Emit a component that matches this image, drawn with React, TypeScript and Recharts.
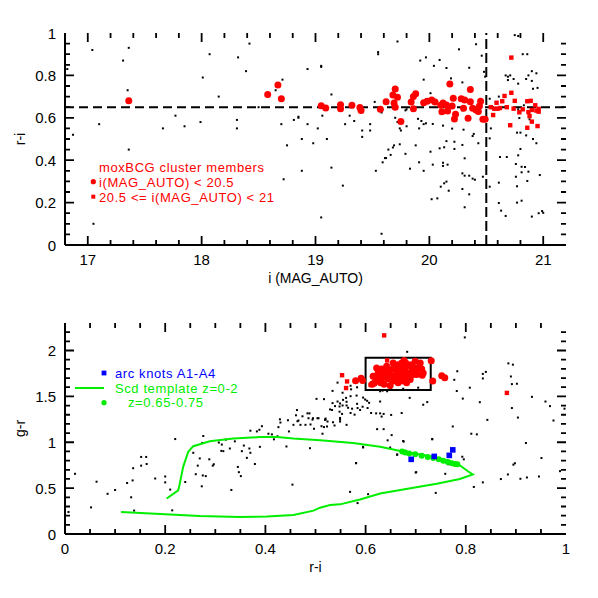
import {
  ScatterChart,
  Scatter,
  XAxis,
  YAxis,
  ReferenceLine,
  ReferenceArea,
  Legend,
  Label,
} from "recharts";

const FONT = '"Liberation Sans", Arial, Helvetica, sans-serif';
const RED = "#ff0000";
const GREEN = "#00ee00";
const BLUE = "#0000ff";

// ---- upper panel: i (MAG_AUTO) vs r-i ----
const topField: [number, number][] = [
  [17.04, 0.92], [17.36, 0.93], [17.31, 0.87], [16.82, 0.83], [17.35, 0.73], [17.1, 0.57], [16.87, 0.52],
  [17.36, 0.45], [17.05, 0.1], [18.07, 0.9], [18.42, 0.95], [18.32, 0.885], [18.39, 0.82], [18.01, 0.79],
  [18.15, 0.7], [17.66, 0.55], [17.77, 0.61], [17.85, 0.56], [17.99, 0.58], [18.31, 0.59], [18.31, 0.55],
  [18.5, 0.65], [18.71, 0.78], [18.65, 0.73], [18.7, 0.57], [18.75, 0.47], [18.81, 0.59], [18.85, 0.605],
  [18.93, 0.83], [19.05, 0.84], [18.93, 0.57], [18.88, 0.5], [18.98, 0.48], [19.02, 0.55], [19.06, 0.61],
  [19.1, 0.5], [18.72, 0.31], [18.88, 0.35], [19.05, 0.13],
  [19.72, 0.96], [19.55, 0.91], [19.55, 0.9], [19.05, 0.845], [19.92, 0.87], [19.97, 0.885], [19.95, 0.78],
  [19.14, 0.71], [19.52, 0.675], [18.85, 0.6], [19.3, 0.61], [19.34, 0.585], [19.26, 0.57], [19.41, 0.54],
  [19.41, 0.51], [19.48, 0.57], [19.48, 0.54], [19.58, 0.625], [19.7, 0.6], [19.72, 0.58], [19.74, 0.55],
  [19.75, 0.54], [19.8, 0.56], [19.9, 0.595], [19.93, 0.585], [19.95, 0.57], [19.97, 0.574], [19.91, 0.55],
  [19.68, 0.46], [19.69, 0.47], [19.64, 0.45], [19.66, 0.425], [19.61, 0.41], [19.62, 0.41], [19.59, 0.39],
  [19.53, 0.35], [19.79, 0.43], [19.74, 0.475], [19.88, 0.47], [19.91, 0.39], [19.83, 0.36], [19.95, 0.35],
  [19.14, 0.365], [19.24, 0.28], [19.58, 0.053], [19.8, 0.64], [19.79, 0.635],
  [20.41, 0.947], [20.26, 0.923], [20.04, 0.845], [20.09, 0.873], [20.15, 0.835], [20.35, 0.836],
  [20.46, 0.893], [20.48, 0.817], [20.49, 0.794], [20.29, 0.767], [20.19, 0.786], [20.75, 0.99],
  [20.78, 0.986], [20.82, 0.9], [20.86, 0.9], [20.67, 0.8], [20.69, 0.794], [20.71, 0.8], [20.69, 0.778],
  [20.74, 0.783], [20.78, 0.761], [20.85, 0.783], [20.87, 0.8], [20.9, 0.82], [20.9, 0.774], [20.94, 0.81],
  [20.91, 0.737], [20.95, 0.741], [20.01, 0.716], [20.3, 0.65], [20.29, 0.635], [20.53, 0.69], [20.61, 0.7],
  [20.78, 0.64], [20.83, 0.659], [20.79, 0.599], [20.88, 0.593], [20.03, 0.571], [20.12, 0.563], [20.2, 0.549],
  [20.3, 0.544], [20.54, 0.55], [20.53, 0.503], [20.77, 0.53], [20.8, 0.53], [20.85, 0.517], [20.91, 0.5],
  [20.94, 0.48], [20.38, 0.514], [20.39, 0.524], [20.43, 0.48], [20.15, 0.49], [20.22, 0.487], [20.22, 0.453],
  [20.29, 0.472], [20.09, 0.456], [20.13, 0.461], [20.01, 0.44], [20.31, 0.409], [20.03, 0.379], [20.12, 0.388],
  [20.12, 0.373], [20.16, 0.379], [20.29, 0.338], [20.31, 0.327], [20.35, 0.327], [20.38, 0.313], [20.4, 0.308],
  [20.47, 0.322], [20.13, 0.291], [20.15, 0.299], [20.1, 0.275], [20.17, 0.256], [20.29, 0.264], [20.35, 0.239],
  [20.02, 0.216], [20.07, 0.22], [20.31, 0.178], [20.53, 0.275], [20.62, 0.415], [20.68, 0.415], [20.61, 0.294],
  [20.61, 0.198], [20.63, 0.162], [20.67, 0.137], [20.76, 0.382], [20.81, 0.369], [20.84, 0.368], [20.78, 0.423],
  [20.8, 0.453], [20.76, 0.322], [20.81, 0.343], [20.87, 0.346], [20.77, 0.277], [20.86, 0.302], [20.97, 0.33],
  [20.77, 0.2], [20.81, 0.209], [20.9, 0.134], [20.96, 0.15], [20.99, 0.16], [21.0, 0.152],
];

const topBright: [number, number][] = [
  [17.36, 0.68], [18.58, 0.71], [18.67, 0.755], [18.7, 0.69], [19.05, 0.657], [19.09, 0.646], [19.22, 0.662],
  [19.22, 0.643], [19.32, 0.659], [19.39, 0.648], [19.4, 0.634], [19.57, 0.64], [19.62, 0.676], [19.7, 0.736],
  [19.68, 0.708], [19.72, 0.697], [19.69, 0.67], [19.7, 0.65], [19.75, 0.583], [19.84, 0.675], [19.86, 0.7],
  [19.88, 0.714], [19.86, 0.643], [19.95, 0.671], [19.98, 0.678], [20.18, 0.76], [20.36, 0.733], [20.02, 0.684],
  [20.05, 0.675], [20.1, 0.659], [20.12, 0.67], [20.11, 0.629], [20.16, 0.632], [20.21, 0.692], [20.2, 0.656],
  [20.23, 0.617], [20.22, 0.594], [20.28, 0.69], [20.31, 0.684], [20.3, 0.645], [20.34, 0.598], [20.36, 0.676],
  [20.38, 0.645], [20.41, 0.637], [20.43, 0.63], [20.44, 0.656], [20.45, 0.678], [20.49, 0.593], [20.47, 0.593],
  [20.15, 0.66],
];

const topFaint: [number, number][] = [
  [20.72, 0.884], [20.72, 0.718], [20.66, 0.703], [20.64, 0.678], [20.59, 0.671], [20.75, 0.68], [20.54, 0.65],
  [20.57, 0.643], [20.6, 0.643], [20.62, 0.646], [20.56, 0.613], [20.68, 0.65], [20.74, 0.643], [20.71, 0.565],
  [20.79, 0.626], [20.82, 0.64], [20.86, 0.678], [20.89, 0.68], [20.93, 0.659], [20.87, 0.627], [20.88, 0.608],
  [20.9, 0.637], [20.96, 0.642], [20.96, 0.629], [20.94, 0.634], [20.95, 0.561], [20.86, 0.553], [20.9, 0.582],
];

const redSequenceColor = 0.65;
const magLimit = 20.5;

// ---- lower panel: r-i vs g-r ----
const lowField: [number, number][] = [
  [0.007, 0.24], [0.02, 0.656], [0.052, 0.29], [0.063, 0.57], [0.085, 0.438], [0.1, 0.48], [0.124, 0.556],
  [0.132, 0.4], [0.135, 0.584], [0.136, 0.717], [0.152, 0.745], [0.152, 0.84], [0.162, 0.84], [0.163, 0.763],
  [0.138, 0.255], [0.18, 0.605], [0.2, 0.627], [0.2, 0.563], [0.21, 0.484], [0.214, 0.258], [0.22, 1.035],
  [0.24, 0.567], [0.256, 0.885], [0.261, 0.652], [0.265, 0.745], [0.269, 0.824], [0.273, 0.52], [0.275, 0.638],
  [0.281, 0.631], [0.276, 1.068], [0.274, 0.993], [0.288, 0.814], [0.295, 0.745], [0.297, 0.76], [0.307, 0.997],
  [0.313, 0.975], [0.312, 0.906], [0.316, 0.903], [0.321, 1.029], [0.329, 0.932], [0.332, 0.48], [0.339, 1.01],
  [0.345, 0.731], [0.347, 0.674], [0.351, 0.631], [0.353, 0.903], [0.357, 0.964], [0.363, 0.83], [0.368, 0.932],
  [0.37, 1.126], [0.37, 0.885], [0.379, 0.763], [0.383, 1.118], [0.388, 1.136], [0.393, 1.175], [0.389, 0.95],
  [0.406, 1.093], [0.413, 1.086], [0.417, 1.032], [0.424, 1.065], [0.426, 1.165], [0.429, 1.25], [0.43, 1.215],
  [0.442, 0.954], [0.445, 1.24], [0.447, 1.118], [0.454, 0.538], [0.456, 1.19], [0.461, 1.294], [0.463, 1.351],
  [0.464, 1.229], [0.466, 1.237], [0.47, 1.19], [0.474, 1.283], [0.48, 1.19], [0.484, 1.315], [0.486, 1.262],
  [0.489, 0.935], [0.49, 1.194], [0.494, 1.247], [0.497, 1.147], [0.502, 1.473], [0.504, 1.262], [0.517, 1.47],
  [0.52, 1.247], [0.523, 1.172], [0.529, 1.358],
  [0.683, 1.986], [0.534, 1.56], [0.544, 1.65], [0.554, 1.54], [0.534, 1.427], [0.539, 1.394], [0.544, 1.444],
  [0.549, 1.423], [0.548, 1.39], [0.554, 1.401], [0.555, 1.462], [0.561, 1.484], [0.562, 1.441], [0.57, 1.616],
  [0.57, 1.502], [0.571, 1.577], [0.582, 1.509], [0.583, 1.599], [0.533, 1.352], [0.548, 1.333], [0.553, 1.309],
  [0.562, 1.401], [0.565, 1.376], [0.573, 1.366], [0.584, 1.373], [0.589, 1.352], [0.583, 1.419], [0.594, 1.387],
  [0.595, 1.487], [0.599, 1.466], [0.603, 1.452], [0.604, 1.373], [0.607, 1.43], [0.611, 1.319], [0.621, 1.315],
  [0.629, 1.444], [0.629, 1.315], [0.632, 1.28], [0.636, 1.309], [0.651, 1.298], [0.672, 1.319], [0.688, 1.484],
  [0.715, 1.409], [0.723, 1.438], [0.578, 1.301], [0.57, 1.319], [0.524, 1.226], [0.535, 1.218], [0.549, 1.226],
  [0.562, 1.19], [0.549, 1.265], [0.519, 1.244], [0.495, 1.262], [0.506, 1.262], [0.488, 1.315], [0.512, 1.175],
  [0.514, 1.093], [0.623, 1.143], [0.636, 1.143], [0.652, 1.078], [0.644, 1.021], [0.676, 1.007], [0.595, 0.943],
  [0.649, 0.943], [0.733, 1.032], [0.581, 0.774], [0.663, 0.867], [0.701, 0.674], [0.765, 0.76], [0.615, 1.642],
  [0.629, 1.556], [0.634, 1.563], [0.643, 1.556], [0.647, 1.6], [0.646, 1.624], [0.65, 1.591], [0.655, 1.57],
  [0.675, 1.584], [0.705, 1.595],
  [0.798, 2.143], [0.885, 1.86], [0.894, 1.846], [0.84, 1.767], [0.834, 1.745], [0.834, 1.696], [0.783, 1.774],
  [0.777, 1.681], [0.808, 1.595], [0.89, 1.717], [0.892, 1.634], [0.902, 1.638], [0.782, 1.559], [0.794, 1.476],
  [0.828, 1.437], [0.932, 1.495], [0.892, 1.373], [0.904, 1.269], [0.959, 1.444], [0.968, 1.394], [0.975, 1.237],
  [0.997, 1.366], [0.843, 1.244], [0.774, 1.172], [0.811, 1.093], [0.822, 1.086], [0.92, 0.992], [0.951, 0.828],
  [0.988, 0.685], [0.895, 0.756], [0.898, 0.771], [0.884, 0.649], [0.87, 0.599], [0.909, 0.602], [0.922, 0.616],
  [0.946, 0.627], [0.834, 0.563], [0.816, 0.513], [0.759, 0.656], [0.7, 0.67], [0.74, 0.448], [0.605, 0.434],
  [0.569, 0.459], [0.584, 0.337], [0.581, 0.771], [0.595, 0.95], [0.663, 0.864], [0.675, 1.014], [0.733, 1.036],
  [0.793, 0.842], [0.796, 0.814], [0.52, 1.258], [0.517, 1.165], [0.538, 1.183], [0.549, 1.247],
];

const lowBright: [number, number][] = [
  [0.58, 1.67], [0.591, 1.699], [0.594, 1.674], [0.613, 1.631], [0.731, 1.889], [0.734, 1.667], [0.752, 1.724],
  [0.758, 1.702], [0.622, 1.81], [0.625, 1.756], [0.615, 1.72], [0.621, 1.692], [0.632, 1.799], [0.639, 1.792],
  [0.642, 1.738], [0.634, 1.703], [0.645, 1.692], [0.63, 1.649], [0.637, 1.631], [0.649, 1.62], [0.655, 1.667],
  [0.662, 1.685], [0.669, 1.692], [0.675, 1.667], [0.682, 1.649], [0.647, 1.749], [0.652, 1.792], [0.661, 1.828],
  [0.665, 1.846], [0.672, 1.864], [0.677, 1.871], [0.682, 1.857], [0.687, 1.835], [0.692, 1.846], [0.697, 1.81],
  [0.702, 1.792], [0.707, 1.821], [0.712, 1.799], [0.692, 1.774], [0.682, 1.756], [0.674, 1.774], [0.667, 1.756],
  [0.662, 1.738], [0.655, 1.72], [0.702, 1.738], [0.713, 1.731], [0.715, 1.756], [0.695, 1.738], [0.685, 1.72],
  [0.675, 1.72], [0.665, 1.649], [0.689, 1.685], [0.642, 1.828], [0.655, 1.864], [0.672, 1.81], [0.679, 1.81],
  [0.662, 1.785], [0.632, 1.738], [0.625, 1.667], [0.617, 1.642], [0.699, 1.882], [0.709, 1.864], [0.677, 1.892],
  [0.67, 1.835],
];

const lowFaint: [number, number][] = [
  [0.637, 2.165], [0.553, 1.731], [0.563, 1.663], [0.561, 1.591], [0.882, 1.538], [0.643, 1.892], [0.61, 1.624],
];

// Scd template track, z = 0 -> 2
const scdTemplate: [number, number][] = [
  [0.112, 0.24], [0.19, 0.218], [0.269, 0.197], [0.349, 0.186], [0.403, 0.19], [0.456, 0.208], [0.496, 0.255],
  [0.509, 0.287], [0.529, 0.315], [0.549, 0.323], [0.589, 0.376], [0.629, 0.441], [0.675, 0.484], [0.742, 0.548],
  [0.788, 0.599], [0.814, 0.649], [0.805, 0.681], [0.782, 0.771], [0.735, 0.842], [0.672, 0.903], [0.629, 0.95],
  [0.575, 0.993], [0.509, 1.022], [0.456, 1.04], [0.423, 1.057], [0.389, 1.057], [0.336, 1.04], [0.289, 1.011],
  [0.256, 0.957], [0.246, 0.896], [0.236, 0.735], [0.228, 0.52], [0.226, 0.476], [0.203, 0.387],
];

const scdArcRange: [number, number][] = [
  [0.673, 0.9], [0.679, 0.889], [0.687, 0.878], [0.699, 0.868], [0.712, 0.853], [0.724, 0.839], [0.735, 0.828],
  [0.746, 0.814], [0.755, 0.799], [0.764, 0.785], [0.772, 0.771], [0.778, 0.763], [0.783, 0.76],
];

const arcKnots: [number, number][] = [
  [0.691, 0.814], [0.737, 0.846], [0.767, 0.857], [0.774, 0.917],
];

const memberBox = { x1: 0.6, x2: 0.73, y1: 1.57, y2: 1.92 };

// ---- axes ----
const steps = (from: number, to: number, step: number) => {
  const out: number[] = [];
  for (let v = from; v <= to + 1e-9; v += step) out.push(Math.round(v * 1000) / 1000);
  return out;
};
const topXDomain: [number, number] = [16.8, 21.2];
const topYDomain: [number, number] = [0, 1];
const lowXDomain: [number, number] = [0, 1];
const lowYDomain: [number, number] = [0, 2.3];
const topXMajor = [17, 18, 19, 20, 21];
const topYMajor = [0, 0.2, 0.4, 0.6, 0.8, 1];
const lowXMajor = [0, 0.2, 0.4, 0.6, 0.8, 1];
const lowYMajor = [0, 0.5, 1, 1.5, 2];
const topXTicks = steps(17, 21, 0.2);
const topYTicks = steps(0, 1, 0.05);
const lowXTicks = steps(0, 1, 0.05);
const lowYTicks = steps(0, 2.2, 0.1);

// plot frames (page px), matching the chart margins and axis sizes below
const TOP_FRAME = { left: 65, top: 33, w: 501, h: 212 };
const LOW_FRAME = { left: 65, top: 323, w: 501, h: 211 };

const pts = (arr: [number, number][]) => arr.map(([x, y]) => ({ x, y }));
const isMajor = (v: number, majors: number[]) => majors.some((m) => Math.abs(m - v) < 1e-6);

// inward IDL-style tick marks on all four sides of a frame
const FrameTicks = ({
  frame, xd, yd, xTicks, xMajors, yTicks, yMajors,
}: {
  frame: { left: number; top: number; w: number; h: number };
  xd: [number, number]; yd: [number, number];
  xTicks: number[]; xMajors: number[]; yTicks: number[]; yMajors: number[];
}) => {
  const { left, top, w, h } = frame;
  const sx = (v: number) => left + ((v - xd[0]) / (xd[1] - xd[0])) * w;
  const sy = (v: number) => top + h - ((v - yd[0]) / (yd[1] - yd[0])) * h;
  const segs: string[] = [];
  xTicks
    .filter((v) => v > xd[0] && v < xd[1])
    .forEach((v) => {
      const l = isMajor(v, xMajors) ? 9 : 5;
      const x = sx(v);
      segs.push(`M${x},${top + h}v${-l}`, `M${x},${top}v${l}`);
    });
  yTicks
    .filter((v) => v > yd[0] && v < yd[1])
    .forEach((v) => {
      const l = isMajor(v, yMajors) ? 9 : 5;
      const y = sy(v);
      segs.push(`M${left},${y}h${l}`, `M${left + w},${y}h${-l}`);
    });
  return <path d={segs.join("")} stroke="#000" strokeWidth={1.8} fill="none" />;
};

type Side = "bottom" | "left";

const makeTick = (side: Side, majors: number[]) => (props: any) => {
  const x = Number(props.x);
  const y = Number(props.y);
  const v = Number(props.payload?.value);
  if (!isMajor(v, majors)) return <g />;
  return side === "bottom" ? (
    <text x={x} y={y + 19.5} textAnchor="middle" fontSize={15} fontFamily={FONT} fill="#000">
      {String(v)}
    </text>
  ) : (
    <text x={x - 9} y={y + 5.5} textAnchor="end" fontSize={15} fontFamily={FONT} fill="#000">
      {String(v)}
    </text>
  );
};

const Field = (p: any) => <rect x={p.cx - 1} y={p.cy - 1} width={2} height={2} fill="#000" />;
const Bright = (p: any) => <circle cx={p.cx} cy={p.cy} r={3.5} fill={RED} />;
const Faint = (p: any) => <rect x={p.cx - 2.2} y={p.cy - 2.2} width={4.4} height={4.4} fill={RED} />;
const GreenDot = (p: any) => <circle cx={p.cx} cy={p.cy} r={3} fill={GREEN} />;
const Knot = (p: any) => <rect x={p.cx - 2.8} y={p.cy - 2.8} width={5.6} height={5.6} fill={BLUE} />;
const NoMark = () => <g />;

const axisLine = { stroke: "#000", strokeWidth: 2 };
const legendText = { fontFamily: FONT, fontSize: 13, letterSpacing: 0.6 };

const xTitle = (text: string) => (p: any) => {
  const vb = p.viewBox || { x: 65, y: 245, width: 501 };
  return (
    <text x={vb.x + vb.width / 2} y={vb.y + 38} textAnchor="middle" fontSize={14} fontFamily={FONT} fill="#000">
      {text}
    </text>
  );
};

const yTitle = (text: string) => (p: any) => {
  const vb = p.viewBox || { y: 33, height: 212 };
  const cx = 20;
  const cy = vb.y + vb.height / 2;
  return (
    <text
      x={cx}
      y={cy}
      transform={`rotate(-90 ${cx} ${cy})`}
      textAnchor="middle"
      dominantBaseline="central"
      fontSize={14}
      fontFamily={FONT}
      fill="#000"
    >
      {text}
    </text>
  );
};

const TopLegend = () => (
  <svg width={210} height={52}>
    <text x={11} y={16.5} fill={RED} {...legendText}>moxBCG cluster members</text>
    <circle cx={5.3} cy={26.7} r={2.6} fill={RED} />
    <text x={11} y={31.5} fill={RED} {...legendText}>i(MAG_AUTO) &lt; 20.5</text>
    <rect x={3.3} y={39.7} width={4} height={4} fill={RED} />
    <text x={11} y={46.5} fill={RED} {...legendText}>20.5 &lt;= i(MAG_AUTO) &lt; 21</text>
  </svg>
);

const LowLegend = () => (
  <svg width={200} height={52}>
    <rect x={31.6} y={10.6} width={4.8} height={4.8} fill={BLUE} />
    <text x={45} y={17.5} fill={BLUE} {...legendText}>arc knots A1-A4</text>
    <line x1={5} y1={28} x2={34} y2={28} stroke={GREEN} strokeWidth={2} />
    <text x={45} y={32.5} fill={GREEN} {...legendText}>Scd template z=0-2</text>
    <circle cx={34} cy={42.7} r={2.6} fill={GREEN} />
    <text x={58} y={47} fill={GREEN} {...legendText}>z=0.65-0.75</text>
  </svg>
);

export default function App() {
  return (
    <div style={{ position: "absolute", left: 0, top: 0, width: 598, height: 598, background: "#fff" }}>
      <div style={{ position: "absolute", left: 0, top: 0 }}>
        <ScatterChart width={598} height={300} margin={{ top: 33, right: 32, bottom: 0, left: 0 }}>
          <XAxis
            type="number"
            dataKey="x"
            domain={topXDomain}
            allowDataOverflow
            ticks={topXTicks}
            interval={0}
            tickSize={0}
            tickMargin={0}
            tickLine={false}
            axisLine={axisLine}
            height={55}
            tick={makeTick("bottom", topXMajor)}
          >
            <Label content={xTitle("i (MAG_AUTO)")} />
          </XAxis>
          <XAxis
            xAxisId="t"
            orientation="top"
            type="number"
            dataKey="x"
            domain={topXDomain}
            allowDataOverflow
            tick={false}
            tickLine={false}
            axisLine={axisLine}
            height={0}
          />
          <YAxis
            type="number"
            dataKey="y"
            domain={topYDomain}
            allowDataOverflow
            ticks={topYTicks}
            interval={0}
            tickSize={0}
            tickMargin={0}
            tickLine={false}
            axisLine={axisLine}
            width={65}
            tick={makeTick("left", topYMajor)}
          >
            <Label content={yTitle("r-i")} />
          </YAxis>
          <YAxis
            yAxisId="r"
            orientation="right"
            type="number"
            dataKey="y"
            domain={topYDomain}
            allowDataOverflow
            tick={false}
            tickLine={false}
            axisLine={axisLine}
            width={0}
          />
          <Scatter name="field" data={pts(topField)} shape={Field} isAnimationActive={false} />
          <ReferenceLine y={redSequenceColor} stroke="#000" strokeWidth={2} strokeDasharray="9 5" />
          <ReferenceLine x={magLimit} stroke="#000" strokeWidth={2} strokeDasharray="10 4" />
          <Scatter
            name="i < 20.5"
            xAxisId="t"
            yAxisId="r"
            data={pts(topBright)}
            shape={Bright}
            isAnimationActive={false}
          />
          <Scatter
            name="20.5 <= i < 21"
            xAxisId="t"
            yAxisId="r"
            data={pts(topFaint)}
            shape={Faint}
            isAnimationActive={false}
          />
          <Legend
            layout="horizontal"
            verticalAlign="middle"
            align="center"
            wrapperStyle={{ left: 88, top: 155, width: 210, height: 52 }}
            content={() => <TopLegend />}
          />
        </ScatterChart>
      </div>
      <div style={{ position: "absolute", left: 0, top: 300 }}>
        <ScatterChart width={598} height={298} margin={{ top: 23, right: 32, bottom: 0, left: 0 }}>
          <XAxis
            type="number"
            dataKey="x"
            domain={lowXDomain}
            allowDataOverflow
            ticks={lowXTicks}
            interval={0}
            tickSize={0}
            tickMargin={0}
            tickLine={false}
            axisLine={axisLine}
            height={64}
            tick={makeTick("bottom", lowXMajor)}
          >
            <Label content={xTitle("r-i")} />
          </XAxis>
          <XAxis
            xAxisId="t"
            orientation="top"
            type="number"
            dataKey="x"
            domain={lowXDomain}
            allowDataOverflow
            tick={false}
            tickLine={false}
            axisLine={axisLine}
            height={0}
          />
          <YAxis
            type="number"
            dataKey="y"
            domain={lowYDomain}
            allowDataOverflow
            ticks={lowYTicks}
            interval={0}
            tickSize={0}
            tickMargin={0}
            tickLine={false}
            axisLine={axisLine}
            width={65}
            tick={makeTick("left", lowYMajor)}
          >
            <Label content={yTitle("g-r")} />
          </YAxis>
          <YAxis
            yAxisId="r"
            orientation="right"
            type="number"
            dataKey="y"
            domain={lowYDomain}
            allowDataOverflow
            tick={false}
            tickLine={false}
            axisLine={axisLine}
            width={0}
          />
          <Scatter name="field" data={pts(lowField)} shape={Field} isAnimationActive={false} />
          <Scatter
            name="Scd template z=0-2"
            data={pts(scdTemplate)}
            fill={GREEN}
            line={{ stroke: GREEN, strokeWidth: 2 }}
            lineJointType="linear"
            shape={NoMark}
            isAnimationActive={false}
          />
          <Scatter name="z=0.65-0.75" data={pts(scdArcRange)} shape={GreenDot} isAnimationActive={false} />
          <Scatter
            name="members bright"
            xAxisId="t"
            yAxisId="r"
            data={pts(lowBright)}
            shape={Bright}
            isAnimationActive={false}
          />
          <Scatter
            name="members faint"
            xAxisId="t"
            yAxisId="r"
            data={pts(lowFaint)}
            shape={Faint}
            isAnimationActive={false}
          />
          <Scatter name="arc knots A1-A4" data={pts(arcKnots)} shape={Knot} isAnimationActive={false} />
          <ReferenceArea
            x1={memberBox.x1}
            x2={memberBox.x2}
            y1={memberBox.y1}
            y2={memberBox.y2}
            fill="none"
            fillOpacity={0}
            stroke="#000"
            strokeWidth={2}
          />
          <Legend
            layout="horizontal"
            verticalAlign="middle"
            align="center"
            wrapperStyle={{ left: 70, top: 60, width: 200, height: 52 }}
            content={() => <LowLegend />}
          />
        </ScatterChart>
      </div>
      <svg
        width={598}
        height={598}
        style={{ position: "absolute", left: 0, top: 0, pointerEvents: "none" }}
      >
        <FrameTicks
          frame={TOP_FRAME}
          xd={topXDomain}
          yd={topYDomain}
          xTicks={topXTicks}
          xMajors={topXMajor}
          yTicks={topYTicks}
          yMajors={topYMajor}
        />
        <FrameTicks
          frame={LOW_FRAME}
          xd={lowXDomain}
          yd={lowYDomain}
          xTicks={lowXTicks}
          xMajors={lowXMajor}
          yTicks={lowYTicks}
          yMajors={lowYMajor}
        />
      </svg>
    </div>
  );
}
